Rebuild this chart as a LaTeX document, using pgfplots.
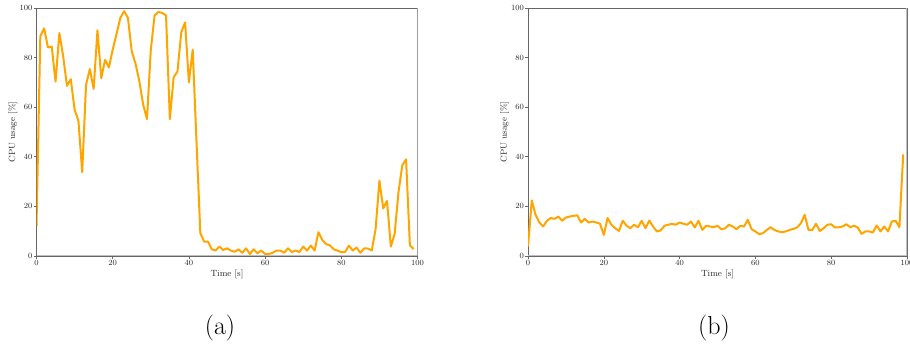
\documentclass[border=0pt]{standalone}
\usepackage{pgfplots}
\pgfplotsset{compat=1.18}
\definecolor{mplorange}{HTML}{FFA500}
\pgfplotstableread{
t u
0 12.1
1 88.6
2 91.8
3 84.1
4 84.4
5 70.3
6 89.9
7 80.5
8 68.6
9 71.3
10 59.0
11 54.6
12 33.8
13 69.0
14 75.4
15 67.4
16 91.0
17 71.7
18 79.1
19 76.0
20 83.2
21 89.5
22 96.0
23 98.7
24 96.0
25 82.5
26 77.5
27 70.4
28 61.0
29 55.2
30 83.2
31 97.0
32 98.4
33 98.0
34 97.0
35 55.2
36 72.1
37 74.4
38 90.2
39 94.2
40 70.0
41 83.2
42 46.0
43 9.2
44 5.8
45 5.8
46 2.7
47 2.2
48 3.8
49 2.4
50 3.1
51 2.2
52 1.7
53 2.7
54 1.3
55 3.1
56 0.8
57 2.7
58 1.1
59 2.2
60 0.8
61 0.8
62 1.3
63 2.2
64 2.2
65 1.3
66 3.1
67 1.6
68 2.2
69 1.6
70 3.8
71 2.2
72 4.2
73 2.2
74 9.6
75 6.5
76 4.8
77 4.3
78 2.7
79 2.2
80 1.5
81 1.6
82 4.2
83 2.2
84 3.4
85 1.3
86 3.1
87 3.0
88 2.2
89 10.8
90 30.4
91 19.2
92 22.2
93 3.8
94 8.9
95 25.6
96 36.5
97 39.0
98 4.3
99 2.8
}\dataA
\pgfplotstableread{
t u
0 3.8
1 22.4
2 16.6
3 13.5
4 11.9
5 14.2
6 15.3
7 15.0
8 15.9
9 14.2
10 15.5
11 15.9
12 16.2
13 16.4
14 13.5
15 15.0
16 13.5
17 13.9
18 13.5
19 13.0
20 8.5
21 15.3
22 12.6
23 11.2
24 10.1
25 14.2
26 12.2
27 11.2
28 12.6
29 11.6
30 14.2
31 11.2
32 14.3
33 11.9
34 9.9
35 10.3
36 12.2
37 12.6
38 13.0
39 12.6
40 13.5
41 13.0
42 12.6
43 13.9
44 11.5
45 14.2
46 10.5
47 12.2
48 11.9
49 11.6
50 12.2
51 10.8
52 11.1
53 12.6
54 11.9
55 10.8
56 12.2
57 11.9
58 14.6
59 10.8
60 9.9
61 8.8
62 9.2
63 10.5
64 11.6
65 10.5
66 9.9
67 9.6
68 9.9
69 10.5
70 10.9
71 11.5
72 13.2
73 16.6
74 10.5
75 10.5
76 13.0
77 10.1
78 11.2
79 12.6
80 12.8
81 11.5
82 11.6
83 11.9
84 12.8
85 11.6
86 12.2
87 11.5
88 8.9
89 9.9
90 9.9
91 9.5
92 12.3
93 9.9
94 11.9
95 9.9
96 13.9
97 14.2
98 11.6
99 41.0
}\dataB
\pgfplotsset{cpu/.style={
  scale only axis, height=248pt,
  xmin=0, xmax=100, ymin=0, ymax=100,
  xtick={0,20,...,100}, ytick={0,20,...,100},
  tick align=outside, major tick length=3pt, tick pos=left,
  tick style={black!60, line width=0.6pt},
  axis line style={black!60, line width=0.8pt},
  tick label style={font=\fontsize{8}{9}\selectfont, text=black!85},
  xticklabel style={inner sep=1pt},
  yticklabel style={inner sep=1pt},
  label style={font=\fontsize{9}{10}\selectfont, text=black!85},
  xlabel={Time [s]}, ylabel={CPU usage [\%]},
  xlabel style={at={(axis description cs:0.5,0)}, anchor=center, yshift=-18pt},
  ylabel style={at={(axis description cs:0,0.5)}, anchor=center, yshift=23.5pt},
  clip=true,
}}
\begin{document}
\begin{tikzpicture}[x=1pt,y=1pt]
\useasboundingbox (0,0) rectangle (910,347);
\begin{axis}[cpu, width=381pt, at={(36.5pt,91pt)}, anchor=south west]
\addplot[mplorange, line width=2pt, no markers, line join=round] table[x=t,y=u] {\dataA};
\draw[black!25, line width=1.6pt] (rel axis cs:0,0) -- (rel axis cs:1,0) -- (rel axis cs:1,1);
\end{axis}
\begin{axis}[cpu, width=379pt, at={(528pt,91pt)}, anchor=south west]
\addplot[mplorange, line width=2pt, no markers, line join=round] table[x=t,y=u] {\dataB};
\draw[black!25, line width=1.6pt] (rel axis cs:0,0) -- (rel axis cs:1,0) -- (rel axis cs:1,1);
\end{axis}
\node[font=\fontsize{26}{30}\selectfont, anchor=base] at (220,12.3) {(a)};
\node[font=\fontsize{26}{30}\selectfont, anchor=base] at (714,12.3) {(b)};
\end{tikzpicture}
\end{document}
